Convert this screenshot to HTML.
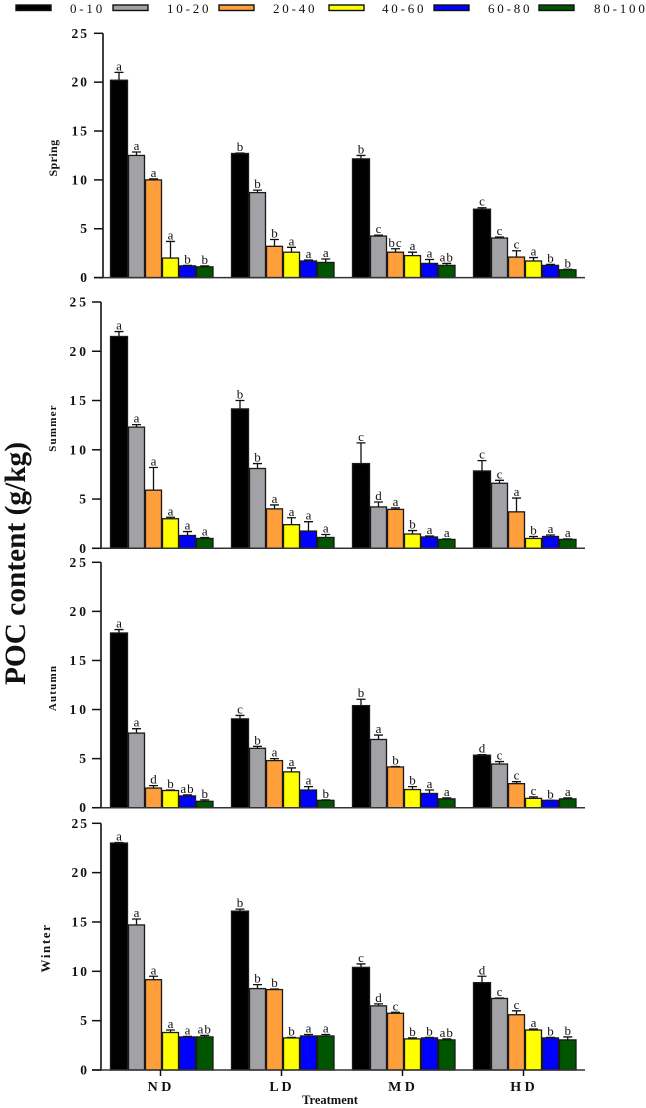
<!DOCTYPE html>
<html lang="en">
<head>
<meta charset="utf-8">
<title>POC content by season and treatment</title>
<style>
  html, body { margin: 0; padding: 0; background: #fff; }
  svg { display: block; }
  text { font-family: "Liberation Serif", "DejaVu Serif", serif; fill: #111; }
</style>
</head>
<body>
<svg id="chart" width="646" height="1108" viewBox="0 0 646 1108" xmlns="http://www.w3.org/2000/svg">
  <text x="25" y="685" transform="rotate(-90 25 685)" font-size="30" font-weight="bold" textLength="243" lengthAdjust="spacingAndGlyphs">POC content (g/kg)</text>
  <text x="330" y="1104" text-anchor="middle" font-size="12.5" font-weight="bold">Treatment</text>
</svg>
<script>
const depthLabels = ['0-10', '10-20', '20-40', '40-60', '60-80', '80-100'];
const treatments = ['N D', 'L D', 'M D', 'H D'];
const yTicks = [0, 5, 10, 15, 20, 25];

const springMeans = [[20.2, 12.5, 10, 2, 1.2, 1.1], [12.7, 8.7, 3.2, 2.6, 1.7, 1.55], [12.15, 4.25, 2.6, 2.25, 1.45, 1.25], [7, 4.05, 2.1, 1.7, 1.25, 0.8]];
const springUppers = [[21, 12.85, 10.1, 3.7, 1.25, 1.2], [12.75, 8.95, 3.9, 3.1, 1.8, 1.9], [12.5, 4.35, 2.95, 2.6, 1.85, 1.45], [7.15, 4.15, 2.75, 2.05, 1.35, 0.85]];
const springLetters = [['a', 'a', 'a', 'a', 'b', 'b'], ['b', 'b', 'b', 'a', 'a', 'a'], ['b', 'c', 'bc', 'a', 'a', 'ab'], ['c', 'c', 'c', 'a', 'b', 'b']];

const summerMeans = [[21.5, 12.3, 5.9, 3, 1.3, 1], [14.15, 8.1, 4, 2.4, 1.75, 1.1], [8.6, 4.2, 3.95, 1.45, 1.15, 0.9], [7.85, 6.6, 3.7, 1, 1.2, 0.9]];
const summerUppers = [[22, 12.55, 8.2, 3.15, 1.7, 1.1], [15, 8.6, 4.4, 3.1, 2.7, 1.4], [10.7, 4.7, 4.1, 1.8, 1.25, 0.95], [8.9, 6.9, 5.1, 1.2, 1.35, 0.95]];
const summerLetters = [['a', 'a', 'a', 'a', 'a', 'a'], ['b', 'b', 'a', 'a', 'a', 'a'], ['c', 'd', 'a', 'b', 'a', 'a'], ['c', 'c', 'a', 'b', 'a', 'a']];

const autumnMeans = [[17.8, 7.6, 2, 1.75, 1.2, 0.65], [9.05, 6.05, 4.8, 3.65, 1.8, 0.75], [10.4, 6.95, 4.15, 1.85, 1.45, 0.9], [5.35, 4.45, 2.45, 0.95, 0.75, 0.9]];
const autumnUppers = [[18.15, 8.05, 2.25, 1.8, 1.3, 0.8], [9.4, 6.25, 5, 4.05, 2.15, 0.8], [11.05, 7.4, 4.2, 2.15, 1.8, 1], [5.4, 4.7, 2.65, 1.1, 0.75, 1]];
const autumnLetters = [['a', 'a', 'd', 'b', 'ab', 'b'], ['c', 'b', 'a', 'a', 'a', 'b'], ['b', 'a', 'b', 'b', 'a', 'a'], ['d', 'c', 'c', 'c', 'b', 'a']];

const winterMeans = [[23, 14.7, 9.15, 3.8, 3.35, 3.35], [16.1, 8.25, 8.15, 3.25, 3.45, 3.45], [10.4, 6.5, 5.75, 3.15, 3.25, 3.05], [8.85, 7.25, 5.6, 4.05, 3.25, 3.05]];
const winterUppers = [[23.05, 15.3, 9.5, 4.05, 3.4, 3.5], [16.3, 8.65, 8.2, 3.3, 3.6, 3.6], [10.75, 6.7, 5.85, 3.25, 3.3, 3.15], [9.5, 7.3, 6, 4.15, 3.3, 3.35]];
const winterLetters = [['a', 'a', 'a', 'a', 'a', 'ab'], ['b', 'b', 'b', 'b', 'a', 'a'], ['c', 'd', 'c', 'b', 'b', 'ab'], ['d', 'c', 'c', 'a', 'b', 'b']];

const seasons = [
  { name: 'Spring', means: springMeans, uppers: springUppers, letters: springLetters },
  { name: 'Summer', means: summerMeans, uppers: summerUppers, letters: summerLetters },
  { name: 'Autumn', means: autumnMeans, uppers: autumnUppers, letters: autumnLetters },
  { name: 'Winter', means: winterMeans, uppers: winterUppers, letters: winterLetters }
];

const panelLayout = [
  { top: 33.3, bottom: 277.6, axisX: 103, labelX: 57, labelY: 158, spacing: 0.4, size: 12, tickSpacing: 2 },
  { top: 302, bottom: 548.3, axisX: 101, labelX: 56, labelY: 428, spacing: 1.2, size: 11, tickSpacing: 3 },
  { top: 562.3, bottom: 807.7, axisX: 101, labelX: 56, labelY: 688, spacing: 1.2, size: 11, tickSpacing: 3 },
  { top: 823.3, bottom: 1070, axisX: 101, labelX: 50, labelY: 948, spacing: 1.6, size: 13, tickSpacing: 2 }
];
const colors = ['#000000', '#a2a1a6', '#ff9f3c', '#ffff00', '#0000ff', '#005500'];
const legendSwatchX = [16, 113, 219, 329, 434, 539];
const legendTextX = [70, 167, 273, 382, 488, 594];

const svg = document.getElementById('chart');
const NS = 'http://www.w3.org/2000/svg';

function make(tag, attrs, parent, text) {
  const el = document.createElementNS(NS, tag);
  Object.keys(attrs).forEach(function (k) { el.setAttribute(k, attrs[k]); });
  if (text !== undefined) el.textContent = text;
  parent.appendChild(el);
  return el;
}
function groupX(g) { return 110 + 121 * g; }
function barLeft(g, b) { return groupX(g) + (b === 0 ? 0 : 1 + 17 * b); }
function barWidth(b) { return b === 0 ? 18 : (b === 5 ? 17.5 : 17); }
function yScale(layout, v) { return layout.bottom - (v / 25) * (layout.bottom - layout.top); }

depthLabels.forEach(function (label, i) {
  const sw = make('rect', { x: legendSwatchX[i], y: 5, width: 35, height: 5.5, fill: colors[i], stroke: '#111', 'stroke-width': 1.4 }, svg);
  
  
  const t = make('text', { x: legendTextX[i], y: 13, 'font-size': 13, 'letter-spacing': 2.8 }, svg, label);
  
  
});

seasons.forEach(function (season, p) {
  const layout = panelLayout[p];
  const key = season.name.toLowerCase();
  const panel = make('g', {}, svg);
  
  

  const title = make('text', {
    x: layout.labelX, y: layout.labelY, 'text-anchor': 'middle', 'font-size': layout.size, 'font-weight': 'bold',
    'letter-spacing': layout.spacing, transform: 'rotate(-90 ' + layout.labelX + ' ' + layout.labelY + ')'
  }, panel, season.name);
  
  

  season.means.forEach(function (groupMeans, g) {
    groupMeans.forEach(function (mean, b) {
      const left = barLeft(g, b);
      const w = barWidth(b);
      const cx = left + w / 2;
      const yMean = yScale(layout, mean);
      const yUp = yScale(layout, season.uppers[g][b]);

      const err = make('path', {
        d: 'M' + cx + ' ' + yMean + 'V' + yUp + 'M' + (cx - 4.5) + ' ' + yUp + 'H' + (cx + 4.5),
        stroke: '#111', 'stroke-width': 1.3, fill: 'none'
      }, panel);
      
      

      const bar = make('rect', {
        x: left + 0.5, y: yMean, width: w - 1, height: layout.bottom - yMean,
        fill: colors[b], stroke: '#1a1a1a', 'stroke-width': 1.3
      }, panel);
      
      

      const letter = make('text', {
        x: cx, y: yUp - 2, 'text-anchor': 'middle', 'font-size': 13,
        'letter-spacing': season.letters[g][b].length > 1 ? 1 : 0
      }, panel, season.letters[g][b]);
      
      
    });
  });

  const yAxis = make('line', { x1: layout.axisX, x2: layout.axisX, y1: layout.top, y2: layout.bottom + 0.7, stroke: '#111', 'stroke-width': 1.6 }, panel);
  
  

  const xAxis = make('line', { x1: layout.axisX - 9, x2: 585, y1: layout.bottom, y2: layout.bottom, stroke: '#333', 'stroke-width': 1.5 }, panel);
  
  

  yTicks.forEach(function (tick) {
    const y = yScale(layout, tick);
    const mark = make('line', { x1: layout.axisX - 9, x2: layout.axisX, y1: y, y2: y, stroke: '#111', 'stroke-width': 1.5 }, panel);
    
    
    const label = make('text', { x: 89, y: y + 4.5, 'text-anchor': 'end', 'font-size': 13.5, 'font-weight': 'bold', 'letter-spacing': layout.tickSpacing }, panel, String(tick));
    
    
  });
});

treatments.forEach(function (name, g) {
  const layout = panelLayout[3];
  const cx = groupX(g) + 50.5;
  const mark = make('line', { x1: cx, x2: cx, y1: layout.bottom, y2: layout.bottom + 6, stroke: '#111', 'stroke-width': 1.5 }, svg);
  
  
  const label = make('text', { x: cx - 1, y: 1091, 'text-anchor': 'middle', 'font-size': 14, 'font-weight': 'bold' }, svg, name);
  
  
});
</script>
</body>
</html>
